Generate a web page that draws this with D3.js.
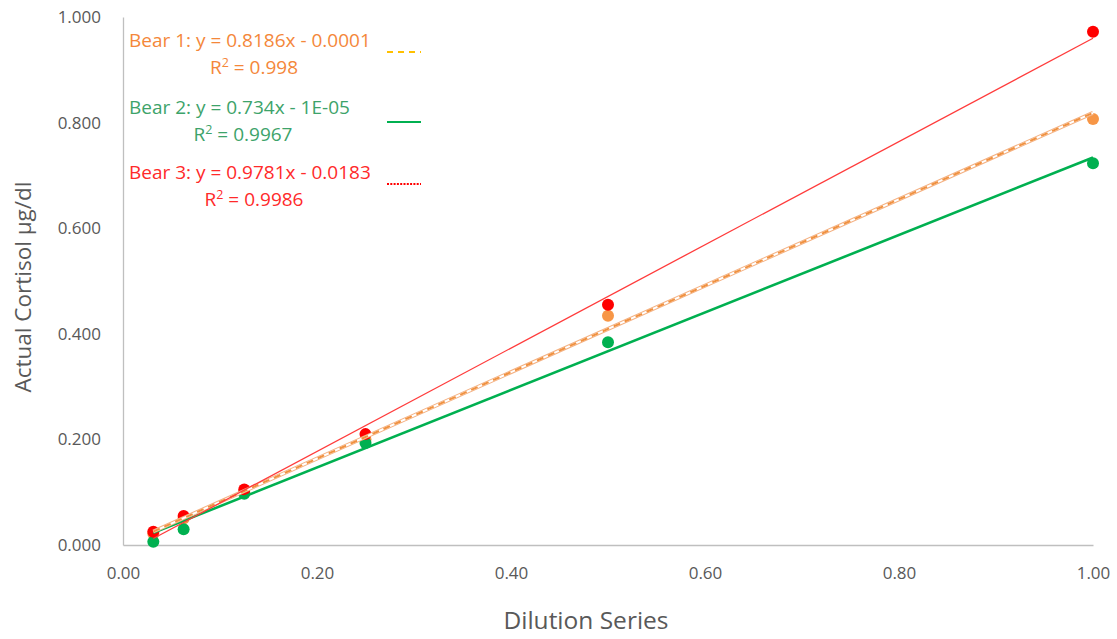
<!DOCTYPE html>
<html>
<head>
<meta charset="utf-8">
<script src="https://cdn.jsdelivr.net/npm/d3@7"></script>
<style>
  html, body { margin: 0; padding: 0; background: #fff; }
  svg { display: block; }
</style>
</head>
<body>
<svg id="chart" width="1117" height="639"></svg>
<script>
// Dilution fractions (x) and measured cortisol per bear (y)
const dilution = [0.03125, 0.0625, 0.125, 0.25, 0.5, 1];
const bear1 = [0.022, 0.050, 0.100, 0.200, 0.434, 0.807];
const bear2 = [0.006, 0.030, 0.097, 0.193, 0.384, 0.723];
const bear3 = [0.025, 0.055, 0.105, 0.210, 0.455, 0.972];

// Linear fits reported for each bear
const fitSlope = [0.8186, 0.734, 0.9781];
const fitIntercept = [-0.0001, -0.00001, -0.0183];
const fitLabels = ["Bear 1: y = 0.8186x - 0.0001", "Bear 2: y = 0.734x - 1E-05", "Bear 3: y = 0.9781x - 0.0183"];
const r2Labels = ["0.998", "0.9967", "0.9986"];

const xTicks = [0, 0.2, 0.4, 0.6, 0.8, 1.0];
const yTicks = [0, 0.2, 0.4, 0.6, 0.8, 1.0];

const svg = d3.select("#chart");
const margin = { left: 123, right: 24, top: 17, bottom: 94 };
const W = 1117, H = 639;

const x = d3.scaleLinear().domain([0, 1]).range([margin.left, W - margin.right]);
const y = d3.scaleLinear().domain([0, 1]).range([H - margin.bottom, margin.top]);

const axisColor = "#BFBFBF";
const tickText = "#595959";

// Axes
const xAxis = svg.append("g")
  .attr("transform", `translate(0,${y(0)})`)
  .call(d3.axisBottom(x).tickValues(xTicks).tickSize(0).tickPadding(22).tickFormat(d3.format(".2f")));
xAxis.select(".domain").attr("stroke", axisColor).attr("stroke-width", 1.3);
xAxis.selectAll("text")
  .attr("fill", tickText)
  .style("font-family", "'Liberation Sans Narrow', 'Arial Narrow', 'Open Sans', sans-serif")
  .style("font-size", "17px");

const yAxis = svg.append("g")
  .attr("transform", `translate(${x(0)},0)`)
  .call(d3.axisLeft(y).tickValues(yTicks).tickSize(0).tickPadding(22).tickFormat(d3.format(".3f")));
yAxis.select(".domain").attr("stroke", axisColor).attr("stroke-width", 1.3);
yAxis.selectAll("text")
  .attr("fill", tickText)
  .style("font-family", "'Open Sans', sans-serif")
  .style("font-size", "17px");

// Axis titles
svg.append("text")
  .attr("x", 586)
  .attr("y", 629)
  .attr("text-anchor", "middle")
  .attr("fill", tickText)
  .style("font-family", "'Liberation Sans Narrow', 'Arial Narrow', 'Open Sans', sans-serif")
  .style("font-size", "24.5px")
  .text("Dilution Series");

svg.append("text")
  .attr("transform", `translate(31,287) rotate(-90)`)
  .attr("text-anchor", "middle")
  .attr("fill", tickText)
  .style("font-family", "'Open Sans', sans-serif")
  .style("font-size", "22.5px")
  .text("Actual Cortisol µg/dl");

// Trendlines across the measured range
const xMin = d3.min(dilution), xMax = d3.max(dilution);
const fitLine = i => [[xMin, fitSlope[i] * xMin + fitIntercept[i]], [xMax, fitSlope[i] * xMax + fitIntercept[i]]];
const line = d3.line().x(d => x(d[0])).y(d => y(d[1]));

const series = [
  { values: bear1, color: "#F79646" },
  { values: bear2, color: "#00B050" },
  { values: bear3, color: "#FF0000" }
];

// Points (drawn beneath trendlines)
series.forEach(s => {
  svg.append("g").selectAll("circle")
    .data(dilution.map((d, i) => [d, s.values[i]]))
    .join("circle")
    .attr("cx", d => x(d[0]))
    .attr("cy", d => y(d[1]))
    .attr("r", 6)
    .attr("fill", s.color);
});

// Bear 2: solid green
svg.append("path").attr("d", line(fitLine(1)))
  .attr("fill", "none").attr("stroke", "#00B050").attr("stroke-width", 2.6);

// Bear 1: dashed orange band
svg.append("path").attr("d", line(fitLine(0)))
  .attr("fill", "none").attr("stroke", "#F4B183").attr("stroke-width", 4);
svg.append("path").attr("d", line(fitLine(0)))
  .attr("fill", "none").attr("stroke", "#ffffff").attr("stroke-width", 2);
svg.append("path").attr("d", line(fitLine(0)))
  .attr("fill", "none").attr("stroke", "#F0913F").attr("stroke-width", 2)
  .attr("stroke-dasharray", "7,5");

// Bear 3: thin red
svg.append("path").attr("d", line(fitLine(2)))
  .attr("fill", "none").attr("stroke", "#FF3B3B").attr("stroke-width", 1.3);

// Equation labels with legend samples
const labelColors = ["#F4873A", "#3DA36A", "#FF2A2A"];
const labelY = [47, 114, 179];
const r2CenterX = [254, 243, 254];
const eqFont = "'Open Sans', sans-serif";
fitLabels.forEach((t, i) => {
  svg.append("text")
    .attr("x", 129).attr("y", labelY[i])
    .attr("fill", labelColors[i])
    .style("font-family", eqFont).style("font-size", "19px")
    .text(t);
  const r = svg.append("text")
    .attr("x", r2CenterX[i]).attr("y", labelY[i] + 27)
    .attr("text-anchor", "middle")
    .attr("fill", labelColors[i])
    .style("font-family", eqFont).style("font-size", "19px");
  r.append("tspan").text("R");
  r.append("tspan").attr("dy", -7).style("font-size", "12.5px").text("2");
  r.append("tspan").attr("dy", 7).text(" = " + r2Labels[i]);
});

// Legend samples
const sampleX0 = 387, sampleX1 = 421;
svg.append("line").attr("x1", sampleX0).attr("x2", sampleX1).attr("y1", 52).attr("y2", 52)
  .attr("stroke", "#FFC000").attr("stroke-width", 2).attr("stroke-dasharray", "6,5");
svg.append("line").attr("x1", sampleX0).attr("x2", sampleX1).attr("y1", 122).attr("y2", 122)
  .attr("stroke", "#00B050").attr("stroke-width", 2);
svg.append("line").attr("x1", sampleX0).attr("x2", sampleX1).attr("y1", 184).attr("y2", 184)
  .attr("stroke", "#FF0000").attr("stroke-width", 2).attr("stroke-dasharray", "2,1.3");
</script>
</body>
</html>
